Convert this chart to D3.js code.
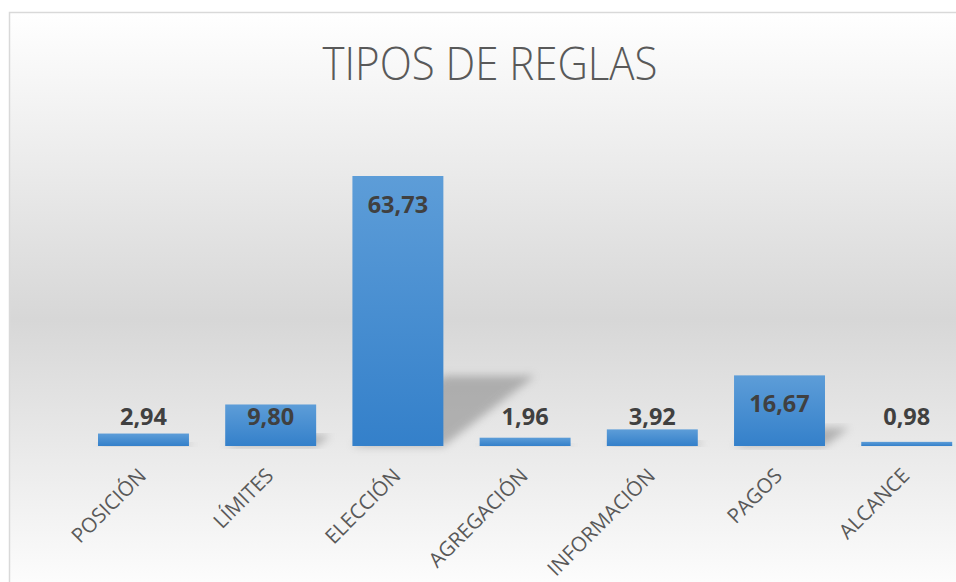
<!DOCTYPE html>
<html>
<head>
<meta charset="utf-8">
<script src="https://d3js.org/d3.v7.min.js"></script>
<style>
  body { margin: 0; background: #fff; }
  svg { display: block; }
</style>
</head>
<body>
<div id="chart"></div>
<script>
// chart data
var categories = ["POSICIÓN", "LÍMITES", "ELECCIÓN", "AGREGACIÓN", "INFORMACIÓN", "PAGOS", "ALCANCE"];
var values = [2.94, 9.80, 63.73, 1.96, 3.92, 16.67, 0.98];
var title = "TIPOS DE REGLAS";

function init() {
    var w = 956, h = 582;
    var base = 446;       // baseline of bars
    var plotTop = 176;    // top of tallest bar

    var svg = d3.select("#chart").append("svg")
        .attr("width", w)
        .attr("height", h);

    var defs = svg.append("defs");

    // chart area background: white -> grey -> white
    var bg = defs.append("linearGradient")
        .attr("id", "bg").attr("x1", 0).attr("y1", 0).attr("x2", 0).attr("y2", 1);
    bg.append("stop").attr("offset", "0").attr("stop-color", "#ffffff");
    bg.append("stop").attr("offset", "0.52").attr("stop-color", "#d7d7d7");
    bg.append("stop").attr("offset", "1").attr("stop-color", "#ffffff");

    // bar fill
    var bar = defs.append("linearGradient")
        .attr("id", "bar").attr("x1", 0).attr("y1", 0).attr("x2", 0).attr("y2", 1);
    bar.append("stop").attr("offset", "0").attr("stop-color", "#5d9dd8");
    bar.append("stop").attr("offset", "1").attr("stop-color", "#3480ca");

    var blur = defs.append("filter").attr("id", "blur")
        .attr("x", "-20%").attr("y", "-20%").attr("width", "140%").attr("height", "140%");
    blur.append("feGaussianBlur").attr("stdDeviation", 4);

    svg.append("rect")
        .attr("x", 9.5).attr("y", 12.5)
        .attr("width", 1000).attr("height", 590)
        .attr("fill", "url(#bg)")
        .attr("stroke", "#d9d9d9")
        .attr("stroke-width", 1.5);

    var x = d3.scaleBand()
        .domain(categories)
        .range([79.9, 970.3])
        .paddingInner(0.285)
        .paddingOuter(0.1423);

    var y = d3.scaleLinear()
        .domain([0, d3.max(values)])
        .range([base, plotTop]);

    var data = categories.map(function(c, i) { return { name: c, value: values[i] }; });

    // perspective shadows behind bars
    svg.append("g").selectAll("path")
        .data(data)
        .enter()
        .append("path")
        .attr("d", function(d) {
            var x0 = x(d.name), x1 = x0 + x.bandwidth();
            var bh = base - y(d.value);
            var dx = bh * 0.34, dy = bh * 0.26;
            return "M" + x0 + "," + base + "L" + x1 + "," + base +
                   "L" + (x1 + dx) + "," + (base - dy) + "L" + (x0 + dx) + "," + (base - dy) + "Z";
        })
        .attr("fill", "#8c8c8c")
        .attr("opacity", 0.6)
        .attr("filter", "url(#blur)");

    svg.append("g").selectAll("rect")
        .data(data)
        .enter()
        .append("rect")
        .attr("x", function(d) { return x(d.name); })
        .attr("y", function(d) { return y(d.value); })
        .attr("width", x.bandwidth())
        .attr("height", function(d) { return base - y(d.value); })
        .attr("fill", "url(#bar)");

    // value labels (inside end, pushed up for short bars)
    svg.append("g").selectAll("text")
        .data(data)
        .enter()
        .append("text")
        .attr("x", function(d) { return x(d.name) + x.bandwidth() / 2; })
        .attr("y", function(d) { return Math.min(y(d.value) + 37, 425); })
        .attr("text-anchor", "middle")
        .attr("font-family", "Open Sans")
        .attr("font-weight", "bold")
        .attr("font-size", 23.5)
        .attr("fill", "#404040")
        .text(function(d) { return d3.format(".2f")(d.value).replace(".", ","); });

    // category labels rotated -45
    svg.append("g").selectAll("text")
        .data(data)
        .enter()
        .append("text")
        .attr("transform", function(d) {
            var cx = x(d.name) + x.bandwidth() / 2;
            return "translate(" + (cx + 4) + "," + (base + 31) + ") rotate(-45)";
        })
        .attr("text-anchor", "end")
        .attr("font-family", "Open Sans")
        .attr("font-size", 20.5)
        .attr("fill", "#595959")
        .text(function(d) { return d.name; });

    // title
    var t = svg.append("text")
        .attr("x", 490)
        .attr("y", 80)
        .attr("text-anchor", "middle")
        .attr("font-family", "Open Sans")
        .attr("font-weight", 300)
        .attr("font-size", 46)
        .attr("fill", "#595959")
        .text(title);
    var tw = t.node().getComputedTextLength();
    if (tw > 0) t.attr("textLength", 335).attr("lengthAdjust", "spacingAndGlyphs");
}

window.onload = init;
</script>
</body>
</html>
